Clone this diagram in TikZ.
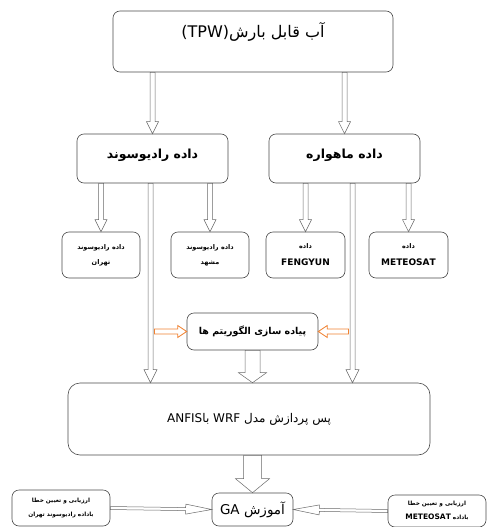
\documentclass[tikz,border=0pt]{standalone}
\usepackage{fontspec}
\setmainfont{DejaVu Sans}
\newfontfamily\fa[Script=Arabic]{DejaVu Sans}
\TeXXeTstate=1
\usetikzlibrary{positioning}
\usetikzlibrary{calc}
\usetikzlibrary{arrows.meta}
\definecolor{edgegray}{RGB}{75,75,75}
\definecolor{arrowgray}{RGB}{105,105,105}
\definecolor{algorange}{RGB}{240,130,50}
\newcommand{\rtl}[1]{\beginR #1\endR}
\newcommand{\ltr}[1]{\beginL #1\endL}
% hollow arrow: [style]{from}{to}{half shaft}{half head}{head length}
\newcommand{\harrow}[6][]{%
  \coordinate (hb) at ($(#3)!#6!(#2)$);
  \draw[arrowline,#1] ($(#2)!#4!90:(#3)$) -- ($(hb)!#4!90:(#3)$) -- ($(hb)!#5!90:(#3)$) -- (#3)
    -- ($(hb)!#5!-90:(#3)$) -- ($(hb)!#4!-90:(#3)$) -- ($(#2)!#4!-90:(#3)$) -- cycle;
}

\begin{document}
\begin{tikzpicture}[x=1pt, y=-1pt,
    box/.style={draw=edgegray, line width=0.6pt, rounded corners=7pt, align=center, inner sep=2pt},
    arrowline/.style={draw=arrowgray, line width=0.5pt, fill=white, line join=miter}]

    \useasboundingbox (0,0) rectangle (488,527);

    % top level
    \node[box, minimum width=280, minimum height=61, text depth=24pt,
          font=\fa\fontsize{16}{18}\selectfont] (tpw) at (253,41.5)
          {\rtl{آب قابل بارش\ltr{(TPW)}}};

    % data sources
    \node[box, minimum width=151, minimum height=49, text depth=10pt,
          font=\fa\bfseries\fontsize{12.5}{14}\selectfont] (rad) at (152.5,158.5) {\rtl{داده رادیوسوند}};
    \node[box, minimum width=151, minimum height=49, text depth=10pt,
          font=\fa\bfseries\fontsize{12.5}{14}\selectfont] (sat) at (344.5,158.5) {\rtl{داده ماهواره}};

    \node[box, minimum width=78, minimum height=46, font=\fa\bfseries\fontsize{6.5}{15}\selectfont]
          (teh) at (101,255) {\rtl{داده رادیوسوند}\\\rtl{تهران}};
    \node[box, minimum width=78, minimum height=46, font=\fa\bfseries\fontsize{6.5}{15}\selectfont]
          (msh) at (210,255) {\rtl{داده رادیوسوند}\\\rtl{مشهد}};
    \node[box, minimum width=79, minimum height=46, font=\fa\bfseries\fontsize{6.5}{17}\selectfont]
          (fen) at (305.5,255) {\rtl{داده}\\{\fontsize{9}{17}\selectfont FENGYUN}};
    \node[box, minimum width=79, minimum height=46, font=\fa\bfseries\fontsize{6.5}{17}\selectfont]
          (met) at (408.5,255) {\rtl{داده}\\{\fontsize{9}{17}\selectfont METEOSAT}};

    % processing
    \node[box, minimum width=131, minimum height=37, font=\fa\bfseries\fontsize{9.5}{11}\selectfont]
          (alg) at (252.5,331.5) {\rtl{پیاده سازی الگوریتم ها}};
    \node[box, minimum width=362, minimum height=72, rounded corners=12pt,
          font=\fa\fontsize{12}{14}\selectfont]
          (wrf) at (249,419) {\rtl{پس پردازش مدل \ltr{WRF} با\ltr{ANFIS}}};

    % training and evaluation
    \node[box, minimum width=81, minimum height=33, font=\fa\fontsize{13.5}{15}\selectfont]
          (ga) at (252.5,509.5) {\rtl{آموزش \ltr{GA}}};
    \node[box, minimum width=98, minimum height=36, font=\fa\bfseries\fontsize{5.8}{14}\selectfont]
          (evl) at (61,508) {\rtl{ارزیابی و تعیین خطا}\\\rtl{باداده رادیوسوند تهران}};
    \node[box, minimum width=98, minimum height=32, font=\fa\bfseries\fontsize{5.8}{14}\selectfont]
          (evr) at (437,511) {\rtl{ارزیابی و تعیین خطا}\\\rtl{باداده \ltr{\fontsize{7.5}{14}\selectfont METEOSAT}}};

    % connector ends
    \coordinate (tpwrad) at (tpw.south -| rad.north);
    \coordinate (tpwsat) at (tpw.south -| sat.north);
    \coordinate (radteh) at (rad.south -| teh.north);
    \coordinate (radmsh) at (rad.south -| msh.north);
    \coordinate (satfen) at (sat.south -| fen.north);
    \coordinate (satmet) at (sat.south -| met.north);
    \coordinate (radlong) at ($(rad.south)+(-2,0)$);
    \coordinate (satlong) at ($(sat.south)+(8,0)$);
    \coordinate (radwrf) at (radlong |- wrf.north);
    \coordinate (satwrf) at (satlong |- wrf.north);
    \coordinate (radalg) at ($(radlong |- alg.west)+(4,0)$);
    \coordinate (satalg) at ($(satlong |- alg.east)+(-4,0)$);
    \coordinate (algwrf) at (alg.south |- wrf.north);
    \coordinate (wrfga) at (wrf.south -| ga.north);

    % connectors
    \harrow{tpwrad}{rad.north}{2.5pt}{6pt}{12pt}
    \harrow{tpwsat}{sat.north}{2.5pt}{6pt}{12pt}
    \harrow{radteh}{teh.north}{2.5pt}{6pt}{12pt}
    \harrow{radmsh}{msh.north}{2.5pt}{6pt}{12pt}
    \harrow{satfen}{fen.north}{2.5pt}{6pt}{12pt}
    \harrow{satmet}{met.north}{2.5pt}{6pt}{12pt}
    \harrow{radlong}{radwrf}{2.5pt}{6.5pt}{13pt}
    \harrow{satlong}{satwrf}{2.5pt}{6.5pt}{13pt}
    \harrow[draw=algorange, line width=0.8pt]{radalg}{alg.west}{2.5pt}{6pt}{9pt}
    \harrow[draw=algorange, line width=0.8pt]{satalg}{alg.east}{2.5pt}{6pt}{9pt}
    \harrow{alg.south}{algwrf}{7.5pt}{14pt}{10pt}
    \harrow{wrfga}{ga.north}{9pt}{17pt}{14pt}
    \harrow{evl.east}{ga.west}{1.5pt}{5pt}{26pt}
    \harrow{evr.west}{ga.east}{1.5pt}{5pt}{26pt}
\end{tikzpicture}
\end{document}
